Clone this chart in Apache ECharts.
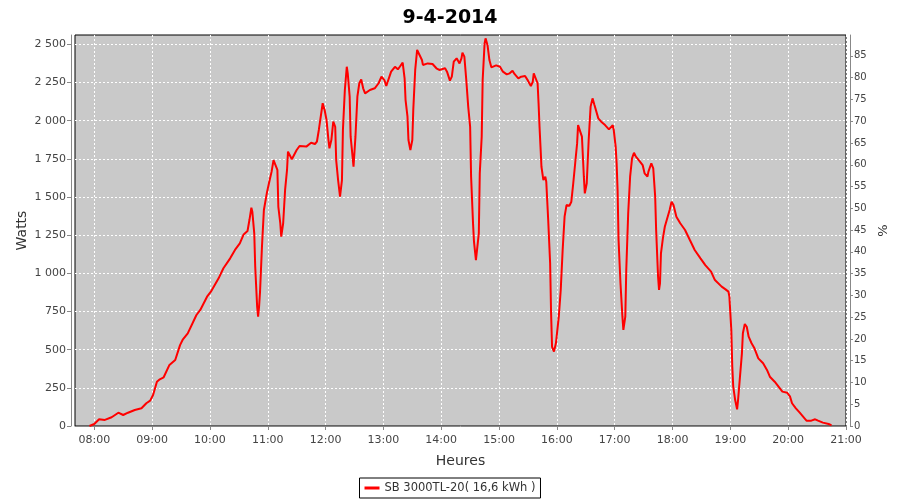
<!DOCTYPE html>
<html>
<head>
<meta charset="utf-8">
<script src="https://cdn.jsdelivr.net/npm/echarts@6/dist/echarts.min.js"></script>
<style>html,body{margin:0;padding:0;background:#fff}#c{width:900px;height:500px}</style>
</head>
<body>
<div id="c"></div>
<script>
const times = ["07:55","08:00","08:05","08:11","08:18","08:25","08:30","08:35","08:42","08:49","08:54","08:58",
"09:01","09:05","09:08","09:12","09:18","09:24","09:29","09:32","09:37","09:46","09:50","09:57",
"10:01","10:09","10:14","10:21","10:26","10:31","10:35","10:39","10:41","10:43","10:44","10:46","10:47","10:49","10:50","10:51","10:52","10:54","10:56","10:59",
"11:02","11:04","11:06","11:08","11:10","11:11","11:13","11:14","11:16","11:18","11:20","11:21","11:23","11:25","11:27","11:30","11:33","11:40","11:45","11:49","11:51","11:53","11:57","11:59",
"12:01","12:03","12:04","12:06","12:08","12:10","12:11","12:13","12:15","12:17","12:18","12:20","12:22","12:23","12:25","12:26","12:28","12:29","12:31","12:33","12:35","12:37","12:39","12:41","12:46","12:51","12:55","12:58",
"13:01","13:03","13:05","13:08","13:12","13:15","13:17","13:20","13:22","13:23","13:25","13:26","13:28","13:30","13:31","13:33","13:35","13:37","13:40","13:41","13:46","13:51","13:55","13:58",
"14:04","14:06","14:09","14:11","14:13","14:16","14:19","14:21","14:22","14:24","14:26","14:28","14:30","14:31","14:33","14:34","14:36","14:38","14:39","14:40","14:42","14:43","14:45","14:46","14:48","14:50","14:52","14:57",
"15:01","15:04","15:08","15:11","15:14","15:16","15:20","15:23","15:27","15:30","15:33","15:35","15:36","15:38","15:40","15:41","15:42","15:43","15:44","15:46","15:48","15:49","15:51","15:53","15:54","15:55","15:57","15:59",
"16:02","16:04","16:06","16:08","16:10","16:13","16:15","16:17","16:19","16:21","16:22","16:24","16:26","16:28","16:29","16:31","16:33","16:35","16:37","16:39","16:43","16:46","16:50","16:54","16:58","16:59",
"17:01","17:02","17:03","17:04","17:06","17:08","17:09","17:11","17:12","17:14","17:16","17:18","17:20","17:22","17:25","17:29","17:31","17:34","17:35","17:38","17:40","17:42","17:43","17:45","17:46","17:47","17:48","17:50","17:52","17:54","17:57","17:59",
"18:01","18:04","18:08","18:13","18:18","18:23","18:29","18:34","18:40","18:44","18:51","18:55","18:58","18:59",
"19:00","19:01","19:02","19:03","19:05","19:07","19:08","19:10","19:12","19:13","19:15","19:17","19:19","19:22","19:25","19:29","19:34","19:38","19:41","19:46","19:50","19:54","19:59",
"20:02","20:04","20:08","20:12","20:17","20:19","20:24","20:28","20:31","20:36","20:42","20:45"];
const watts = [0,13,44,40,57,87,72,87,105,116,149,166,
203,290,306,319,400,432,530,568,607,727,760,847,
880,967,1033,1098,1153,1196,1255,1277,1349,1430,1404,1262,1043,781,716,781,880,1175,1415,1524,
1611,1666,1742,1753,1677,1436,1328,1240,1328,1546,1677,1797,1797,1747,1753,1808,1834,1830,1855,1847,1862,1939,2114,2070,
2004,1873,1819,1873,1993,1960,1742,1611,1502,1611,1939,2201,2353,2310,2157,1895,1764,1698,1895,2157,2245,2270,2212,2179,2201,2212,2245,2288,
2266,2227,2233,2321,2353,2336,2353,2380,2277,2135,2026,1873,1808,1873,2070,2332,2463,2474,2397,2365,2375,2371,2343,2332,
2343,2321,2262,2288,2386,2408,2375,2408,2445,2419,2266,2092,1960,1633,1328,1207,1087,1087,1262,1655,1895,2266,2506,2539,2496,2397,2349,2362,
2353,2321,2303,2310,2327,2306,2277,2288,2292,2262,2227,2255,2310,2310,2245,2114,1960,1830,1698,1611,1633,1600,1349,1066,738,519,487,542,
716,891,1153,1371,1447,1443,1469,1590,1721,1851,1971,1982,1895,1633,1524,1590,1873,2092,2146,2102,2015,1993,1971,1943,1971,1939,
1830,1721,1546,1218,935,716,629,716,1022,1393,1633,1753,1790,1764,1742,1709,1655,1633,1666,1721,1688,1502,1284,978,891,935,1131,1229,1305,1349,1415,1469,
1447,1371,1328,1284,1218,1153,1098,1054,1011,956,913,895,880,847,
738,629,389,258,170,109,170,323,476,607,668,650,585,542,509,443,411,367,323,290,258,225,218,
192,149,116,87,50,35,35,44,35,22,13,4];
const hourTicks = ["08:00","09:00","10:00","11:00","12:00","13:00","14:00","15:00","16:00","17:00","18:00","19:00","20:00","21:00"];
const wattTicks = [0,250,500,750,1000,1250,1500,1750,2000,2250,2500];
const pctTicks = [0,5,10,15,20,25,30,35,40,45,50,55,60,65,70,75,80,85];
const seriesName = "SB 3000TL-20( 16,6 kWh )";
const titleText = "9-4-2014";

function toMin(s){const p=s.split(":");return +p[0]*60 + +p[1];}
function fmtMin(v){const h=Math.floor(v/60),m=Math.round(v%60);return (h<10?"0":"")+h+":"+(m<10?"0":"")+m;}
function fmtW(v){return v>=1000? Math.floor(v/1000)+" "+String(v%1000).padStart(3,"0") : String(v);}

const data = times.map((t,i)=>[toMin(t), watts[i]]);
const lbl = {color:"#444", fontSize:11, fontFamily:"DejaVu Sans"};
const chart = echarts.init(document.getElementById("c"), null, {renderer:"canvas"});
chart.setOption({
  animation:false,
  title:{text:titleText, left:"center", top:4, textStyle:{fontFamily:"DejaVu Sans", fontWeight:"bold", fontSize:19, color:"#000"}},
  grid:{left:75, right:54, top:35, bottom:74, show:true, backgroundColor:"#c9c9c9", borderColor:"#000", borderWidth:1},
  legend:{bottom:2, left:"center", data:[{name:seriesName, icon:"rect"}], itemWidth:15, itemHeight:3, itemGap:4,
    borderColor:"#000", borderWidth:1, borderRadius:0, padding:[4,5,4,5],
    textStyle:{fontSize:11.5, color:"#333", fontFamily:"DejaVu Sans"}},
  xAxis:{type:"value", min:460, max:1260, offset:4,
    name:"Heures", nameLocation:"middle", nameGap:24, nameTextStyle:{fontSize:14, color:"#333", fontFamily:"DejaVu Sans"},
    axisLine:{show:true, lineStyle:{color:"#888"}},
    axisTick:{show:true, length:4, lineStyle:{color:"#888"}, customValues:hourTicks.map(toMin)},
    axisLabel:{...lbl, margin:5, formatter:fmtMin, customValues:hourTicks.map(toMin)},
    splitLine:{show:true, lineStyle:{color:"#fff", type:[2,2], width:1}}},
  yAxis:[
    {type:"value", min:0, max:2561, position:"left", offset:4,
      name:"Watts", nameLocation:"middle", nameGap:42, nameMoveOverlap:false, nameTextStyle:{fontSize:14, color:"#333", fontFamily:"DejaVu Sans"},
      axisLine:{show:true, lineStyle:{color:"#888"}},
      axisTick:{show:true, length:4, lineStyle:{color:"#888"}, customValues:wattTicks},
      axisLabel:{...lbl, margin:5, formatter:fmtW, customValues:wattTicks},
      splitLine:{show:true, lineStyle:{color:"#fff", type:[2,2], width:1}}},
    {type:"value", min:0, max:89.8, position:"right", offset:4,
      name:"%", nameLocation:"middle", nameGap:25, nameRotate:90, nameTextStyle:{fontSize:13, color:"#333", fontFamily:"DejaVu Sans"},
      axisLine:{show:true, lineStyle:{color:"#888"}},
      axisTick:{show:true, length:3, lineStyle:{color:"#888"}, customValues:pctTicks},
      axisLabel:{color:"#444", fontSize:10, fontFamily:"DejaVu Sans", margin:4, customValues:pctTicks},
      splitLine:{show:false}}
  ],
  series:[{name:seriesName, type:"line", data:data, showSymbol:false, symbol:"none",
    lineStyle:{color:"#ff0000", width:2}, itemStyle:{color:"#ff0000"}}]
});
</script>
</body>
</html>
